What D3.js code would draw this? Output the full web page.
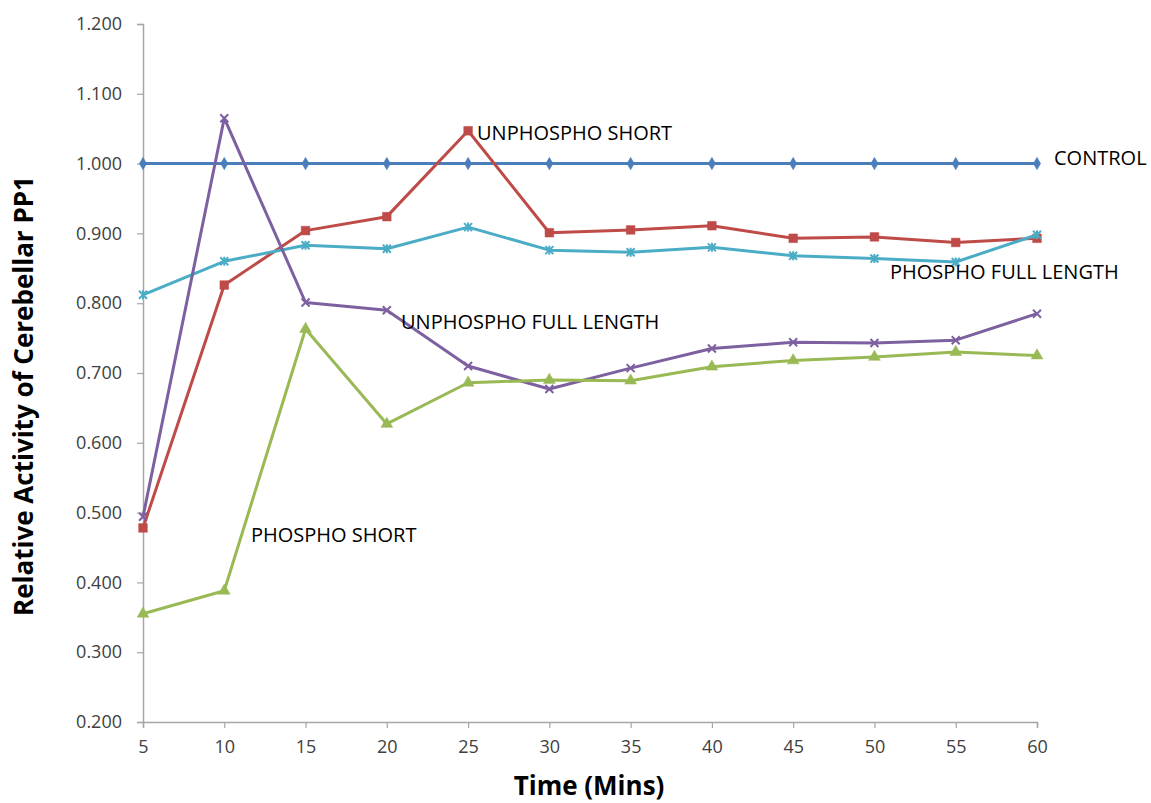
<!DOCTYPE html>
<html>
<head>
<meta charset="utf-8">
<script src="https://cdn.jsdelivr.net/npm/d3@7"></script>
<style>
  html, body { margin: 0; padding: 0; background: #fff; overflow: hidden; }
  svg { display: block; }
  text { font-family: "Open Sans", "Noto Sans", sans-serif; }
</style>
</head>
<body>
<svg id="chart" width="1151" height="803"></svg>
<script>
// Time points (minutes)
const times = [5, 10, 15, 20, 25, 30, 35, 40, 45, 50, 55, 60];

// Relative activity of cerebellar PP1 per series
const control            = [1.000, 1.000, 1.000, 1.000, 1.000, 1.000, 1.000, 1.000, 1.000, 1.000, 1.000, 1.000];
const unphosphoShort     = [0.478, 0.826, 0.904, 0.924, 1.047, 0.901, 0.905, 0.911, 0.893, 0.895, 0.887, 0.893];
const phosphoFullLength  = [0.812, 0.860, 0.883, 0.878, 0.909, 0.876, 0.873, 0.880, 0.868, 0.864, 0.859, 0.898];
const unphosphoFullLength= [0.494, 1.065, 0.801, 0.790, 0.710, 0.677, 0.707, 0.735, 0.744, 0.743, 0.747, 0.785];
const phosphoShort       = [0.355, 0.388, 0.763, 0.627, 0.686, 0.690, 0.689, 0.709, 0.718, 0.723, 0.730, 0.725];

const yTicks = [0.2, 0.3, 0.4, 0.5, 0.6, 0.7, 0.8, 0.9, 1.0, 1.1, 1.2];

const series = [
  { name: "CONTROL",               values: control,             color: "#4a7ebb", marker: "diamond",  label: { x: 1054, y: 158 } },
  { name: "UNPHOSPHO SHORT",       values: unphosphoShort,      color: "#be4b48", marker: "square",   label: { x: 477,  y: 133 } },
  { name: "PHOSPHO FULL LENGTH",   values: phosphoFullLength,   color: "#4bacc6", marker: "star",     label: { x: 890,  y: 272 } },
  { name: "UNPHOSPHO FULL LENGTH", values: unphosphoFullLength, color: "#7d60a0", marker: "x",        label: { x: 401,  y: 322 } },
  { name: "PHOSPHO SHORT",         values: phosphoShort,        color: "#98b954", marker: "triangle", label: { x: 251,  y: 535 } }
];

const svg = d3.select("#chart");
const plot = { left: 143, right: 1037, top: 24, bottom: 722 };

const x = d3.scaleLinear().domain([5, 60]).range([plot.left, plot.right]);
const y = d3.scaleLinear().domain([0.2, 1.2]).range([plot.bottom, plot.top]);

const axisColor = "#a6a6a6";

// Y axis
const yAxis = svg.append("g")
  .attr("transform", `translate(${plot.left},0)`)
  .call(d3.axisLeft(y).tickValues(yTicks).tickFormat(d3.format(".3f")).tickSize(6).tickPadding(15));
// X axis
const xAxis = svg.append("g")
  .attr("transform", `translate(0,${plot.bottom})`)
  .call(d3.axisBottom(x).tickValues(times).tickFormat(d3.format("d")).tickSize(6).tickPadding(12));

[yAxis, xAxis].forEach(g => {
  g.select(".domain").attr("stroke", axisColor).attr("stroke-width", 1.5);
  g.selectAll(".tick line").attr("stroke", axisColor).attr("stroke-width", 1.2);
  g.selectAll(".tick text")
    .attr("fill", "#404040")
    .style("font-size", "18px")
    .style("font-family", "\"Open Sans\", sans-serif");
});

// Axis titles
svg.append("text")
  .attr("transform", `translate(33,396) rotate(-90)`)
  .attr("text-anchor", "middle")
  .style("font-size", "26px")
  .style("font-weight", "bold")
  .attr("fill", "#000")
  .text("Relative Activity of Cerebellar PP1");

svg.append("text")
  .attr("x", 589)
  .attr("y", 795)
  .attr("text-anchor", "middle")
  .style("font-size", "26px")
  .style("font-weight", "bold")
  .attr("fill", "#000")
  .text("Time (Mins)");

const line = d3.line()
  .x((d, i) => x(times[i]))
  .y(d => y(d));

// Marker shapes
function markerPath(type) {
  switch (type) {
    case "diamond":  return d3.symbol(d3.symbolDiamond, 45)();
    case "square":   return d3.symbol(d3.symbolSquare, 75)();
    case "triangle": return d3.symbol(d3.symbolTriangle, 60)();
    case "x":        return "M-4,-4L4,4M-4,4L4,-4";
    case "star":     return "M-4,-4L4,4M-4,4L4,-4M0,-4.5L0,4.5";
  }
}

series.forEach(s => {
  const g = svg.append("g");
  g.append("path")
    .datum(s.values)
    .attr("fill", "none")
    .attr("stroke", s.color)
    .attr("stroke-width", 3)
    .attr("stroke-linejoin", "round")
    .attr("d", line);

  const stroked = s.marker === "x" || s.marker === "star";
  g.selectAll("path.marker")
    .data(s.values)
    .join("path")
    .attr("class", "marker")
    .attr("transform", (d, i) => `translate(${x(times[i])},${y(d)})`)
    .attr("d", markerPath(s.marker))
    .attr("fill", stroked ? "none" : s.color)
    .attr("stroke", s.color)
    .attr("stroke-width", stroked ? 2 : 0.5);

  svg.append("text")
    .attr("x", s.label.x)
    .attr("y", s.label.y)
    .attr("dy", "0.35em")
    .style("font-size", "20px")
    .attr("fill", "#000")
    .text(s.name);
});
</script>
</body>
</html>
